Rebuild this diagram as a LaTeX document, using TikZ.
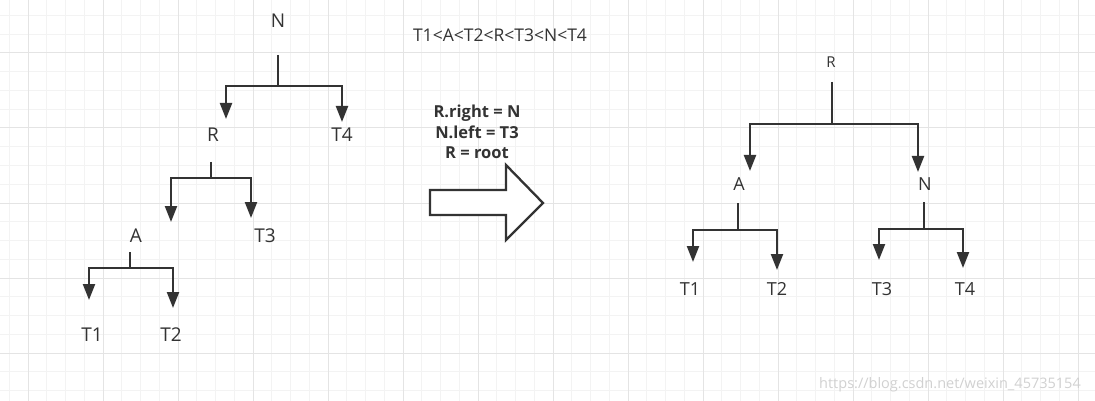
\documentclass[tikz,border=0pt]{standalone}
\usepackage{fontspec}
\setmainfont{Open Sans}
\usetikzlibrary{arrows.meta}
\tikzset{>={Triangle[length=16pt, width=12pt]}}
\definecolor{ink}{HTML}{333333}
\definecolor{gridminor}{HTML}{F3F3F3}
\definecolor{gridmajor}{HTML}{E4E4E4}
\tikzset{
    link/.style={draw=ink, line width=2.3pt, ->},
    key/.style={anchor=base, inner sep=0pt, text=ink, font=\fontsize{#1}{#1}\selectfont},
    key/.default=19,
    rule/.style={anchor=base, inner sep=0pt, text=ink, font=\fontsize{16.5}{16.5}\selectfont\bfseries},
}
% one parent, two children: stem, bar, two arrows
\newcommand{\fork}[5]{
    \coordinate (#1s) at (#2); \coordinate (#1j) at (#3);
    \coordinate (#1l) at (#4); \coordinate (#1r) at (#5);
    \draw[link] (#1s) -- (#1j) -| (#1l);
    \draw[link] (#1j) -| (#1r);
}

\begin{document}
\begin{tikzpicture}[x=1pt, y=-1pt]
    \useasboundingbox[fill=white] (0, 0) rectangle (1095, 401);
    \foreach \i in {0,...,58} \draw[gridminor, line width=1pt] ({9.25+18.75*\i}, 0) -- ++(0, 401);
    \foreach \i in {0,...,20} \draw[gridminor, line width=1pt] (0, {15.5+18.75*\i}) -- ++(1095, 0);
    \foreach \x in {28, 103, ..., 1078} \draw[gridmajor, line width=1pt] (\x, 0) -- ++(0, 401);
    \foreach \y in {53, 128, ..., 353} \draw[gridmajor, line width=1pt] (0, \y) -- ++(1095, 0);
    % before
    \node[key] (lN) at (278, 28){N};
    \node[key] (lR) at (213, 142){R};
    \node[key] (lT4) at (342, 142){T4};
    \node[key] (lA) at (136, 242){A};
    \node[key] (lT3) at (265, 242){T3};
    \node[key] (lT1) at (92, 341){T1};
    \node[key] (lT2) at (171, 341){T2};
    \fork{lN}{278, 55}{278, 86}{226, 119}{342, 122}
    \fork{lR}{211, 162}{211, 178}{171, 222}{251, 218}
    \fork{lA}{130, 252}{130, 268}{89, 300}{173, 308}
    % rotation
    \node[key=17.5] (order) at (500, 41.5){T1<A<T2<R<T3<N<T4};
    \node[rule] (s1) at (477, 117.5){R.right = N};
    \node[rule] (s2) at (477, 138.5){N.left = T3};
    \node[rule] (s3) at (477, 158.5){R = root};
    \draw[ink, fill=white, line width=2.3pt](430, 190)--(506, 190)--(506, 165)--(543, 203)--(506, 240)--(506, 215)--(430, 215)--cycle;
    % after
    \node[key=15] (rR) at (831, 67.5){R};
    \node[key=18] (rA) at (739, 190.5){A};
    \node[key=18] (rN) at (925, 190.5){N};
    \node[key=18] (rT1) at (690, 295.5){T1};
    \node[key=18] (rT2) at (777, 295.5){T2};
    \node[key=18] (rT3) at (882, 295.5){T3};
    \node[key=18] (rT4) at (965, 295.5){T4};
    \fork{rR}{832, 82}{832, 124}{750, 171}{918, 172}
    \fork{rA}{738, 203}{738, 230}{693, 262}{777, 270}
    \fork{rN}{924, 202}{924, 229}{879, 260}{963, 268}
    \node[anchor=base, inner sep=0pt, text=black!18, font=\fontsize{14.5}{14.5}\selectfont] (mark) at (950, 388){https://blog.csdn.net/weixin\_45735154};
\end{tikzpicture}
\end{document}
